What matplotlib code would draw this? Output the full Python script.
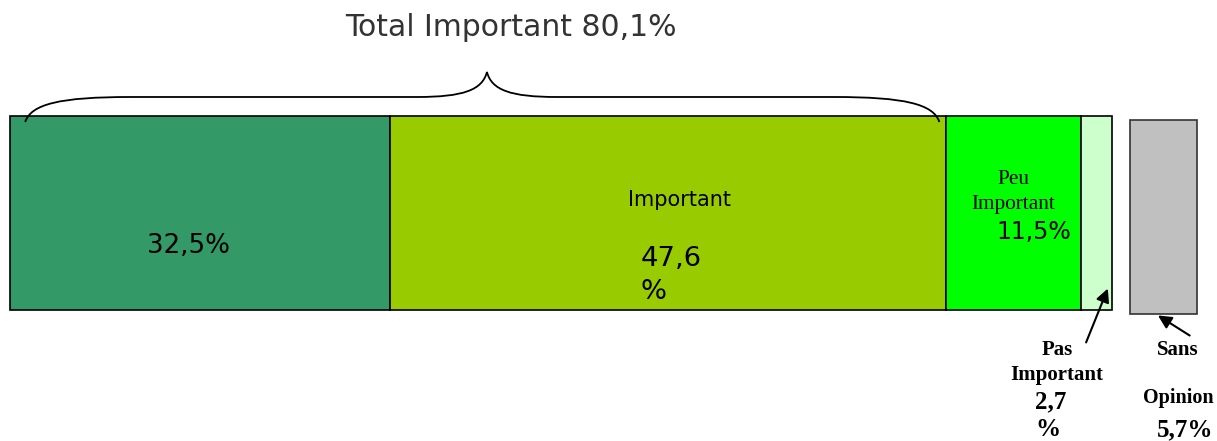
import numpy as np
import matplotlib.pyplot as plt
from matplotlib.path import Path
from matplotlib.patches import PathPatch

# Data
segments = ['Tres Important', 'Important', 'Peu Important', 'Pas Important']
values = [32.5, 47.6, 11.5, 2.7]
colors = ['#339966', '#99cc00', '#00ff00', '#ccffcc']
sans_opinion = 5.7
total_important = 80.1

fig = plt.figure(figsize=(12.17, 4.41), dpi=100)
ax = fig.add_axes([0, 0, 1, 1])
ax.set_xlim(-10 / 11.69, (1217 - 10) / 11.69)
ax.set_ylim(441, 0)
ax.axis('off')

# stacked bar (y in pixel units)
left = 0
for v, c in zip(values, colors):
    ax.barh(213, v, left=left, height=194, color=c, edgecolor='black', linewidth=1.2)
    left += v
# sans opinion box, a bit separated
grey_left = left + 1.5
ax.barh(217, sans_opinion, left=grey_left, height=194, color='#c0c0c0',
        edgecolor='#333333', linewidth=1.2)

# brace over the "important" part
x0, x1 = 1.3, total_important - 0.6
xm = (x0 + x1) / 2 + 0.4
verts = [(x0, 122), (x0 + 0.5, 104), (x0 + 3, 97), (x0 + 9, 97),
         (xm - 6, 97),
         (xm - 2, 97), (xm - 0.4, 90), (xm, 72),
         (xm + 0.4, 90), (xm + 2, 97), (xm + 6, 97),
         (x1 - 9, 97),
         (x1 - 3, 97), (x1 - 0.5, 104), (x1, 122)]
codes = [Path.MOVETO, Path.CURVE4, Path.CURVE4, Path.CURVE4,
         Path.LINETO,
         Path.CURVE4, Path.CURVE4, Path.CURVE4,
         Path.CURVE4, Path.CURVE4, Path.CURVE4,
         Path.LINETO,
         Path.CURVE4, Path.CURVE4, Path.CURVE4]
ax.add_patch(PathPatch(Path(verts, codes), facecolor='none', edgecolor='black', lw=1.3))

ax.text(xm + 2.05, 28, f'Total Important {total_important:.1f}%'.replace('.', ','),
        ha='center', va='center', fontsize=21.5, color='#333333')

# labels inside bars
ax.text(values[0] / 2 - 1, 246, f'{values[0]:.1f}%'.replace('.', ','),
        ha='center', va='center', fontsize=18.8)
mid = values[0] + values[1] / 2
ax.text(mid + 1, 200, 'Important', ha='center', va='center', fontsize=15)
ax.text(mid - 2.35, 259, f'{values[1]:.1f}'.replace('.', ','),
        ha='left', va='center', fontsize=19.7)
ax.text(mid - 2.35, 292, '%', ha='left', va='center', fontsize=19.7)

mid3 = values[0] + values[1] + values[2] / 2
ax.text(mid3, 180, 'Peu', ha='center', va='center', fontsize=15.3,
        family='Liberation Serif')
ax.text(mid3, 205, 'Important', ha='center', va='center', fontsize=15.3,
        family='Liberation Serif')
ax.text(mid3 + 1.7, 232, f'{values[2]:.1f}%'.replace('.', ','),
        ha='center', va='center', fontsize=17)

# outside labels
bold = dict(va='center', fontweight='bold', family='Liberation Serif')
px = (1057 - 10) / 11.69
pl = (1035 - 10) / 11.69
ax.text(px, 350, 'Pas', ha='center', fontsize=15, **bold)
ax.text(px, 375, 'Important', ha='center', fontsize=15, **bold)
ax.text(pl, 402, f'{values[3]:.1f}'.replace('.', ','), ha='left', fontsize=18, **bold)
ax.text(pl, 430, '%', ha='left', fontsize=18, **bold)
sx = (1178 - 10) / 11.69
ax.text(sx, 350, 'Sans', ha='center', fontsize=15, **bold)
ax.text(sx, 398, 'Opinion', ha='center', fontsize=14.5, **bold)
ax.text((1185 - 10) / 11.69, 430, f'{sans_opinion:.1f}%'.replace('.', ','),
        ha='center', fontsize=18, **bold)

# arrows
pas_right = sum(values)
ax.annotate('', xy=(pas_right - 0.3, 286), xytext=(px + 2.4, 345),
            arrowprops=dict(arrowstyle='-|>', color='black', lw=1.5, mutation_scale=20))
ax.annotate('', xy=(grey_left + 2.2, 314), xytext=(sx + 1.2, 337),
            arrowprops=dict(arrowstyle='-|>', color='black', lw=1.5, mutation_scale=20))

fig.savefig('out.png', dpi=100)
